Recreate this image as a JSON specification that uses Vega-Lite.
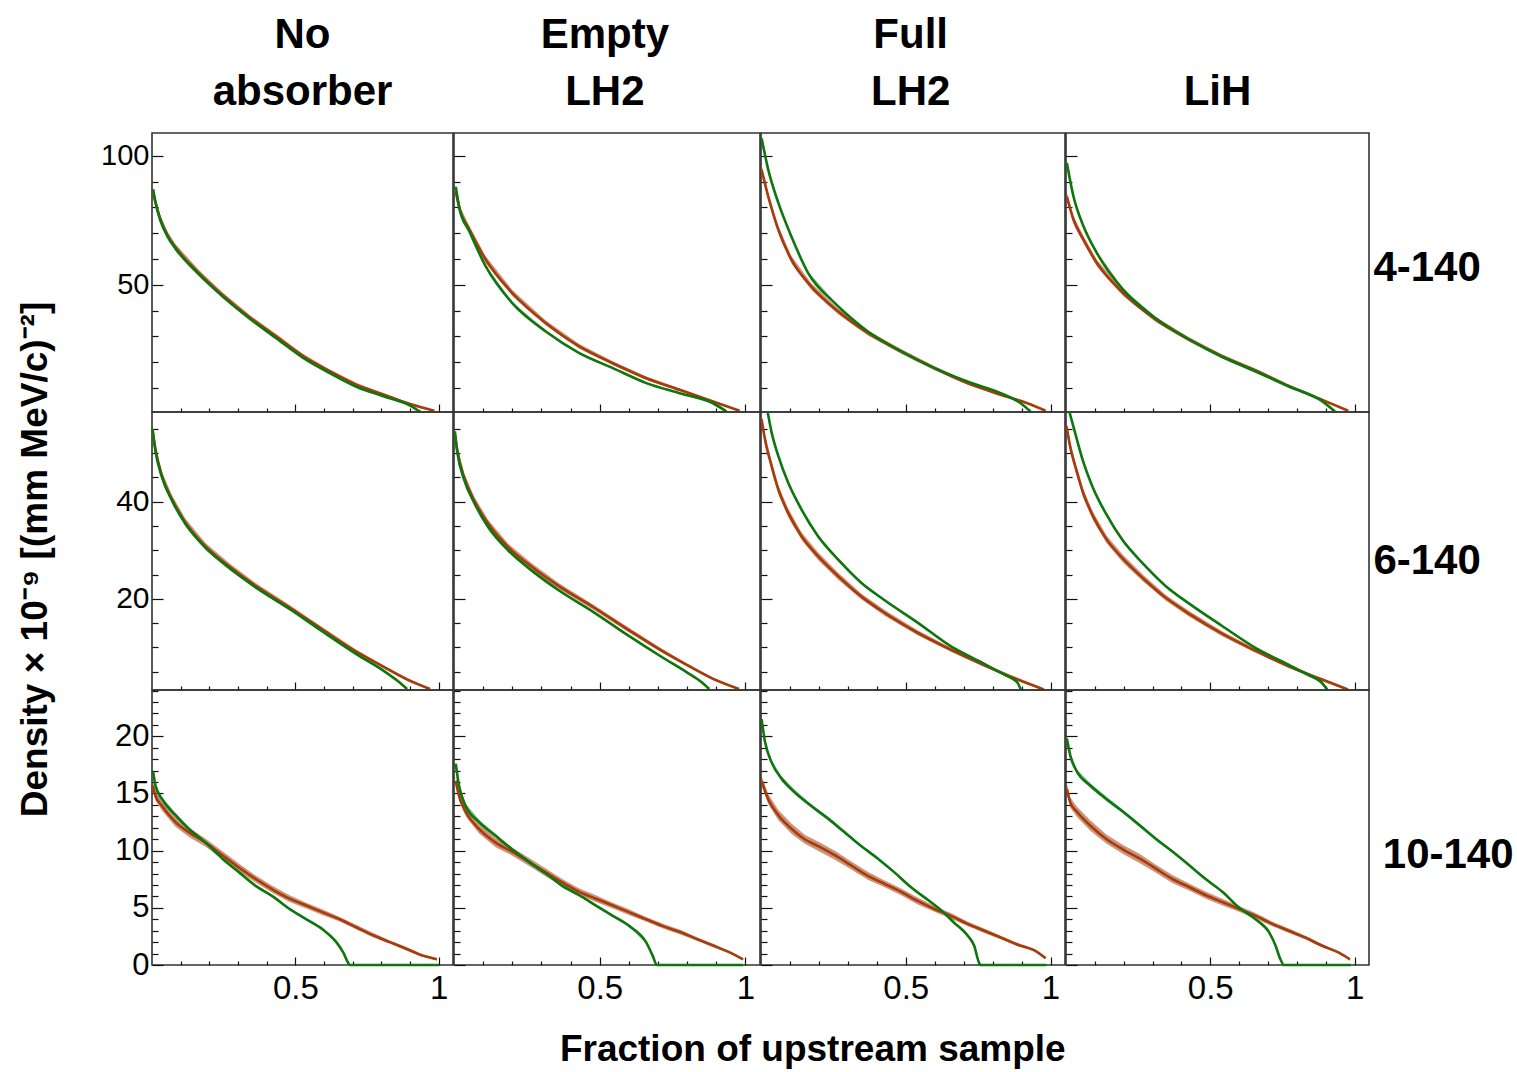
{
  "$schema": "https://vega.github.io/schema/vega-lite/v6.json",
  "background": "white",
  "padding": {"left": 15, "top": 14, "right": 2, "bottom": 5},
  "title": {"text": "Fraction of upstream sample", "orient": "bottom", "anchor": "middle", "fontSize": 37, "offset": 22, "dx": 48},
  "spacing": -7,
  "config": {
    "font": "Liberation Sans",
    "view": {"stroke": "#333333", "strokeWidth": 1.6},
    "axis": {"domain": false, "grid": false, "tickColor": "#111111", "tickWidth": 1.2, "labelFont": "Liberation Sans", "labelColor": "#000000", "labelFlush": false, "labelOverlap": false, "labelBound": false, "minExtent": 0},
    "title": {"font": "Liberation Sans", "fontWeight": "bold", "color": "#000000", "anchor": "middle"},
    "line": {"strokeWidth": 2.6, "interpolate": "monotone", "clip": true},
    "errorband": {"interpolate": "monotone"}
  },
  "datasets": {
    "p11": [
      {"s":"b","x":0.004,"y":85.5,"e":1.6},{"s":"b","x":0.012,"y":82,"e":1.5},{"s":"b","x":0.029,"y":75.5,"e":1.4},{"s":"b","x":0.055,"y":69,"e":1.4},{"s":"b","x":0.082,"y":64.5,"e":1.3},{"s":"b","x":0.164,"y":54.5,"e":1.2},{"s":"b","x":0.246,"y":46,"e":1.1},{"s":"b","x":0.339,"y":37.5,"e":1},{"s":"b","x":0.433,"y":30,"e":0.9},{"s":"b","x":0.526,"y":22.5,"e":0.8},{"s":"b","x":0.62,"y":16.5,"e":0.7},{"s":"b","x":0.713,"y":11.3,"e":0.6},{"s":"b","x":0.807,"y":7.5,"e":0.5},{"s":"b","x":0.9,"y":3.8,"e":0.4},{"s":"b","x":0.985,"y":1.2,"e":0.3},
      {"s":"g","x":0.004,"y":87,"e":0.6},{"s":"g","x":0.012,"y":82,"e":0.6},{"s":"g","x":0.029,"y":75,"e":0.5},{"s":"g","x":0.055,"y":68.5,"e":0.5},{"s":"g","x":0.082,"y":64,"e":0.5},{"s":"g","x":0.164,"y":54,"e":0.4},{"s":"g","x":0.246,"y":45.5,"e":0.4},{"s":"g","x":0.339,"y":37,"e":0.4},{"s":"g","x":0.433,"y":29.3,"e":0.3},{"s":"g","x":0.526,"y":21.8,"e":0.3},{"s":"g","x":0.62,"y":15.8,"e":0.3},{"s":"g","x":0.713,"y":10.5,"e":0.3},{"s":"g","x":0.807,"y":6.8,"e":0.2},{"s":"g","x":0.9,"y":3.2,"e":0.2},{"s":"g","x":0.936,"y":0.8,"e":0.2}
    ],
    "p12": [
      {"s":"b","x":0.006,"y":86,"e":1.6},{"s":"b","x":0.02,"y":79,"e":1.5},{"s":"b","x":0.052,"y":71.6,"e":1.4},{"s":"b","x":0.109,"y":59.7,"e":1.3},{"s":"b","x":0.2,"y":46.8,"e":1.2},{"s":"b","x":0.315,"y":35.2,"e":1},{"s":"b","x":0.43,"y":26.1,"e":0.9},{"s":"b","x":0.545,"y":19.6,"e":0.8},{"s":"b","x":0.66,"y":13.8,"e":0.7},{"s":"b","x":0.774,"y":9.3,"e":0.6},{"s":"b","x":0.889,"y":4.8,"e":0.4},{"s":"b","x":0.98,"y":1.2,"e":0.3},
      {"s":"g","x":0.006,"y":88,"e":0.6},{"s":"g","x":0.02,"y":79,"e":0.5},{"s":"g","x":0.052,"y":70.8,"e":0.5},{"s":"g","x":0.109,"y":57.1,"e":0.4},{"s":"g","x":0.2,"y":42.9,"e":0.4},{"s":"g","x":0.315,"y":31.9,"e":0.4},{"s":"g","x":0.43,"y":23.5,"e":0.3},{"s":"g","x":0.545,"y":17.7,"e":0.3},{"s":"g","x":0.66,"y":11.9,"e":0.3},{"s":"g","x":0.774,"y":8,"e":0.3},{"s":"g","x":0.889,"y":4.1,"e":0.2},{"s":"g","x":0.935,"y":0.9,"e":0.2}
    ],
    "p13": [
      {"s":"b","x":0.002,"y":94.6,"e":1.8},{"s":"b","x":0.025,"y":84.2,"e":1.6},{"s":"b","x":0.06,"y":71.3,"e":1.5},{"s":"b","x":0.105,"y":59.7,"e":1.4},{"s":"b","x":0.174,"y":49.3,"e":1.3},{"s":"b","x":0.266,"y":39.7,"e":1.1},{"s":"b","x":0.369,"y":31.3,"e":1},{"s":"b","x":0.484,"y":24.2,"e":0.9},{"s":"b","x":0.599,"y":17.7,"e":0.8},{"s":"b","x":0.713,"y":11.9,"e":0.6},{"s":"b","x":0.828,"y":7.4,"e":0.5},{"s":"b","x":0.92,"y":4.1,"e":0.4},{"s":"b","x":0.983,"y":1.2,"e":0.3},
      {"s":"g","x":0.002,"y":106.8,"e":0.7},{"s":"g","x":0.025,"y":94.6,"e":0.6},{"s":"g","x":0.06,"y":81.7,"e":0.5},{"s":"g","x":0.105,"y":68.7,"e":0.5},{"s":"g","x":0.163,"y":54.5,"e":0.4},{"s":"g","x":0.255,"y":42.9,"e":0.4},{"s":"g","x":0.369,"y":31.9,"e":0.4},{"s":"g","x":0.484,"y":24.2,"e":0.3},{"s":"g","x":0.599,"y":17.7,"e":0.3},{"s":"g","x":0.713,"y":12.5,"e":0.3},{"s":"g","x":0.828,"y":8,"e":0.3},{"s":"g","x":0.897,"y":4.1,"e":0.2},{"s":"g","x":0.931,"y":0.9,"e":0.2}
    ],
    "p14": [
      {"s":"b","x":0.003,"y":84.2,"e":1.7},{"s":"b","x":0.026,"y":75.2,"e":1.5},{"s":"b","x":0.061,"y":67.4,"e":1.4},{"s":"b","x":0.107,"y":58.4,"e":1.3},{"s":"b","x":0.198,"y":46.8,"e":1.2},{"s":"b","x":0.313,"y":36.4,"e":1},{"s":"b","x":0.428,"y":28.7,"e":0.9},{"s":"b","x":0.542,"y":22.2,"e":0.8},{"s":"b","x":0.657,"y":16.8,"e":0.7},{"s":"b","x":0.772,"y":10.8,"e":0.6},{"s":"b","x":0.886,"y":5.5,"e":0.4},{"s":"b","x":0.978,"y":1.2,"e":0.3},
      {"s":"g","x":0.003,"y":97.2,"e":0.7},{"s":"g","x":0.026,"y":84.2,"e":0.6},{"s":"g","x":0.061,"y":72.6,"e":0.5},{"s":"g","x":0.107,"y":62.3,"e":0.5},{"s":"g","x":0.198,"y":48.1,"e":0.4},{"s":"g","x":0.313,"y":36.8,"e":0.4},{"s":"g","x":0.428,"y":28.7,"e":0.3},{"s":"g","x":0.542,"y":22,"e":0.3},{"s":"g","x":0.657,"y":16.4,"e":0.3},{"s":"g","x":0.772,"y":10.6,"e":0.3},{"s":"g","x":0.886,"y":5,"e":0.2},{"s":"g","x":0.932,"y":0.9,"e":0.2}
    ],
    "p21": [
      {"s":"b","x":0.002,"y":54.6,"e":1},{"s":"b","x":0.012,"y":50.8,"e":0.9},{"s":"b","x":0.035,"y":45.3,"e":0.9},{"s":"b","x":0.07,"y":40.5,"e":0.8},{"s":"b","x":0.117,"y":35.7,"e":0.8},{"s":"b","x":0.187,"y":30.8,"e":0.7},{"s":"b","x":0.269,"y":26.7,"e":0.7},{"s":"b","x":0.363,"y":22.6,"e":0.6},{"s":"b","x":0.48,"y":18.2,"e":0.5},{"s":"b","x":0.596,"y":13.6,"e":0.5},{"s":"b","x":0.713,"y":9.1,"e":0.4},{"s":"b","x":0.807,"y":6,"e":0.3},{"s":"b","x":0.889,"y":3.4,"e":0.3},{"s":"b","x":0.97,"y":1.4,"e":0.2},
      {"s":"g","x":0.002,"y":55,"e":0.4},{"s":"g","x":0.012,"y":50.5,"e":0.4},{"s":"g","x":0.035,"y":45,"e":0.3},{"s":"g","x":0.07,"y":40.2,"e":0.3},{"s":"g","x":0.117,"y":35.4,"e":0.3},{"s":"g","x":0.187,"y":30.5,"e":0.3},{"s":"g","x":0.269,"y":26.4,"e":0.3},{"s":"g","x":0.363,"y":22.3,"e":0.2},{"s":"g","x":0.48,"y":17.9,"e":0.2},{"s":"g","x":0.596,"y":13.2,"e":0.2},{"s":"g","x":0.713,"y":8.6,"e":0.2},{"s":"g","x":0.807,"y":5.2,"e":0.2},{"s":"g","x":0.854,"y":3.2,"e":0.2},{"s":"g","x":0.89,"y":1.4,"e":0.2}
    ],
    "p22": [
      {"s":"b","x":0.003,"y":53.8,"e":1},{"s":"b","x":0.012,"y":50.3,"e":0.9},{"s":"b","x":0.035,"y":45,"e":0.9},{"s":"b","x":0.07,"y":40.2,"e":0.8},{"s":"b","x":0.117,"y":35.5,"e":0.8},{"s":"b","x":0.187,"y":30.6,"e":0.7},{"s":"b","x":0.269,"y":26.5,"e":0.7},{"s":"b","x":0.363,"y":22.5,"e":0.6},{"s":"b","x":0.48,"y":18.2,"e":0.5},{"s":"b","x":0.596,"y":13.7,"e":0.5},{"s":"b","x":0.713,"y":9.3,"e":0.4},{"s":"b","x":0.807,"y":6.1,"e":0.3},{"s":"b","x":0.889,"y":3.5,"e":0.3},{"s":"b","x":0.978,"y":1.4,"e":0.2},
      {"s":"g","x":0.003,"y":54.5,"e":0.4},{"s":"g","x":0.012,"y":50,"e":0.4},{"s":"g","x":0.035,"y":44.5,"e":0.3},{"s":"g","x":0.07,"y":39.7,"e":0.3},{"s":"g","x":0.117,"y":34.8,"e":0.3},{"s":"g","x":0.187,"y":29.9,"e":0.3},{"s":"g","x":0.269,"y":25.7,"e":0.3},{"s":"g","x":0.363,"y":21.6,"e":0.2},{"s":"g","x":0.48,"y":17.2,"e":0.2},{"s":"g","x":0.596,"y":12.5,"e":0.2},{"s":"g","x":0.713,"y":8,"e":0.2},{"s":"g","x":0.8,"y":4.8,"e":0.2},{"s":"g","x":0.85,"y":2.8,"e":0.2},{"s":"g","x":0.876,"y":1.4,"e":0.2}
    ],
    "p23": [
      {"s":"b","x":0.002,"y":57,"e":1.1},{"s":"b","x":0.014,"y":52.8,"e":1},{"s":"b","x":0.037,"y":47.3,"e":1},{"s":"b","x":0.06,"y":42.5,"e":0.9},{"s":"b","x":0.094,"y":37.7,"e":0.9},{"s":"b","x":0.14,"y":32.9,"e":0.8},{"s":"b","x":0.197,"y":28.8,"e":0.8},{"s":"b","x":0.266,"y":24.7,"e":0.7},{"s":"b","x":0.346,"y":20.5,"e":0.6},{"s":"b","x":0.427,"y":17.1,"e":0.6},{"s":"b","x":0.541,"y":13,"e":0.5},{"s":"b","x":0.656,"y":9.5,"e":0.4},{"s":"b","x":0.771,"y":6.3,"e":0.3},{"s":"b","x":0.885,"y":3.4,"e":0.3},{"s":"b","x":0.977,"y":1.3,"e":0.2},
      {"s":"g","x":0.023,"y":58.5,"e":0.4},{"s":"g","x":0.037,"y":54.2,"e":0.4},{"s":"g","x":0.06,"y":49.4,"e":0.3},{"s":"g","x":0.094,"y":43.9,"e":0.3},{"s":"g","x":0.14,"y":38.4,"e":0.3},{"s":"g","x":0.197,"y":32.9,"e":0.3},{"s":"g","x":0.266,"y":28.1,"e":0.3},{"s":"g","x":0.346,"y":23.3,"e":0.2},{"s":"g","x":0.427,"y":19.7,"e":0.2},{"s":"g","x":0.541,"y":15.1,"e":0.2},{"s":"g","x":0.656,"y":10.2,"e":0.2},{"s":"g","x":0.771,"y":6.6,"e":0.2},{"s":"g","x":0.839,"y":4.4,"e":0.2},{"s":"g","x":0.885,"y":2.8,"e":0.2},{"s":"g","x":0.897,"y":1.3,"e":0.2}
    ],
    "p24": [
      {"s":"b","x":0.002,"y":55.5,"e":1.1},{"s":"b","x":0.014,"y":51.5,"e":1},{"s":"b","x":0.037,"y":46.3,"e":1},{"s":"b","x":0.06,"y":41.7,"e":0.9},{"s":"b","x":0.094,"y":37,"e":0.9},{"s":"b","x":0.14,"y":32.3,"e":0.8},{"s":"b","x":0.197,"y":28.3,"e":0.8},{"s":"b","x":0.266,"y":24.3,"e":0.7},{"s":"b","x":0.346,"y":20.2,"e":0.6},{"s":"b","x":0.427,"y":16.9,"e":0.6},{"s":"b","x":0.541,"y":12.8,"e":0.5},{"s":"b","x":0.656,"y":9.3,"e":0.4},{"s":"b","x":0.771,"y":6.1,"e":0.3},{"s":"b","x":0.885,"y":3.4,"e":0.3},{"s":"b","x":0.977,"y":1.3,"e":0.2},
      {"s":"g","x":0.012,"y":58.5,"e":0.4},{"s":"g","x":0.037,"y":53,"e":0.4},{"s":"g","x":0.06,"y":48.2,"e":0.3},{"s":"g","x":0.094,"y":42.8,"e":0.3},{"s":"g","x":0.14,"y":37.4,"e":0.3},{"s":"g","x":0.197,"y":32,"e":0.3},{"s":"g","x":0.266,"y":27.3,"e":0.3},{"s":"g","x":0.346,"y":22.6,"e":0.2},{"s":"g","x":0.427,"y":19,"e":0.2},{"s":"g","x":0.541,"y":14.4,"e":0.2},{"s":"g","x":0.656,"y":9.9,"e":0.2},{"s":"g","x":0.771,"y":6.4,"e":0.2},{"s":"g","x":0.839,"y":4.3,"e":0.2},{"s":"g","x":0.885,"y":2.8,"e":0.2},{"s":"g","x":0.905,"y":1.3,"e":0.2}
    ],
    "p31": [
      {"s":"b","x":0.003,"y":15.7,"e":0.4},{"s":"b","x":0.012,"y":14.8,"e":0.4},{"s":"b","x":0.035,"y":13.9,"e":0.4},{"s":"b","x":0.082,"y":12.5,"e":0.4},{"s":"b","x":0.129,"y":11.6,"e":0.4},{"s":"b","x":0.187,"y":10.7,"e":0.35},{"s":"b","x":0.246,"y":9.6,"e":0.35},{"s":"b","x":0.304,"y":8.5,"e":0.35},{"s":"b","x":0.363,"y":7.5,"e":0.3},{"s":"b","x":0.421,"y":6.6,"e":0.3},{"s":"b","x":0.48,"y":5.8,"e":0.3},{"s":"b","x":0.538,"y":5.2,"e":0.25},{"s":"b","x":0.596,"y":4.6,"e":0.25},{"s":"b","x":0.655,"y":4,"e":0.2},{"s":"b","x":0.713,"y":3.3,"e":0.2},{"s":"b","x":0.772,"y":2.6,"e":0.2},{"s":"b","x":0.83,"y":2,"e":0.15},{"s":"b","x":0.889,"y":1.4,"e":0.15},{"s":"b","x":0.947,"y":0.8,"e":0.1},{"s":"b","x":0.994,"y":0.5,"e":0.1},
      {"s":"g","x":0.004,"y":16.9,"e":0.2},{"s":"g","x":0.012,"y":15.7,"e":0.2},{"s":"g","x":0.035,"y":14.5,"e":0.2},{"s":"g","x":0.082,"y":13.1,"e":0.2},{"s":"g","x":0.129,"y":11.9,"e":0.15},{"s":"g","x":0.187,"y":10.7,"e":0.15},{"s":"g","x":0.246,"y":9.3,"e":0.15},{"s":"g","x":0.304,"y":8.1,"e":0.1},{"s":"g","x":0.363,"y":6.9,"e":0.1},{"s":"g","x":0.421,"y":6,"e":0.1},{"s":"g","x":0.48,"y":4.9,"e":0.1},{"s":"g","x":0.538,"y":4,"e":0.1},{"s":"g","x":0.596,"y":3.1,"e":0.1},{"s":"g","x":0.643,"y":2,"e":0.1},{"s":"g","x":0.667,"y":1.1,"e":0.1},{"s":"g","x":0.684,"y":0.2,"e":0},{"s":"g","x":0.69,"y":0,"e":0},{"s":"g","x":1,"y":0,"e":0}
    ],
    "p32": [
      {"s":"b","x":0.006,"y":16.1,"e":0.4},{"s":"b","x":0.017,"y":14.8,"e":0.4},{"s":"b","x":0.04,"y":13.4,"e":0.4},{"s":"b","x":0.086,"y":11.9,"e":0.4},{"s":"b","x":0.143,"y":10.7,"e":0.4},{"s":"b","x":0.2,"y":9.9,"e":0.35},{"s":"b","x":0.258,"y":9,"e":0.35},{"s":"b","x":0.315,"y":8.1,"e":0.35},{"s":"b","x":0.373,"y":7.2,"e":0.3},{"s":"b","x":0.43,"y":6.4,"e":0.3},{"s":"b","x":0.487,"y":5.8,"e":0.3},{"s":"b","x":0.545,"y":5.2,"e":0.25},{"s":"b","x":0.602,"y":4.6,"e":0.25},{"s":"b","x":0.659,"y":4,"e":0.2},{"s":"b","x":0.717,"y":3.4,"e":0.2},{"s":"b","x":0.774,"y":2.9,"e":0.2},{"s":"b","x":0.831,"y":2.3,"e":0.15},{"s":"b","x":0.889,"y":1.7,"e":0.15},{"s":"b","x":0.946,"y":1.1,"e":0.1},{"s":"b","x":0.992,"y":0.5,"e":0.1},
      {"s":"g","x":0.006,"y":17.6,"e":0.2},{"s":"g","x":0.017,"y":15.7,"e":0.2},{"s":"g","x":0.04,"y":13.9,"e":0.2},{"s":"g","x":0.086,"y":12.5,"e":0.2},{"s":"g","x":0.143,"y":11.3,"e":0.15},{"s":"g","x":0.2,"y":10.1,"e":0.15},{"s":"g","x":0.258,"y":9,"e":0.15},{"s":"g","x":0.315,"y":8,"e":0.1},{"s":"g","x":0.373,"y":6.9,"e":0.1},{"s":"g","x":0.43,"y":6.1,"e":0.1},{"s":"g","x":0.487,"y":5.2,"e":0.1},{"s":"g","x":0.545,"y":4.3,"e":0.1},{"s":"g","x":0.602,"y":3.4,"e":0.1},{"s":"g","x":0.659,"y":2,"e":0.1},{"s":"g","x":0.682,"y":0.8,"e":0.1},{"s":"g","x":0.696,"y":0,"e":0},{"s":"g","x":0.992,"y":0,"e":0}
    ],
    "p33": [
      {"s":"b","x":0.002,"y":16.1,"e":0.45},{"s":"b","x":0.025,"y":14.5,"e":0.45},{"s":"b","x":0.06,"y":13.1,"e":0.45},{"s":"b","x":0.106,"y":11.9,"e":0.45},{"s":"b","x":0.151,"y":11,"e":0.4},{"s":"b","x":0.197,"y":10.4,"e":0.4},{"s":"b","x":0.255,"y":9.6,"e":0.4},{"s":"b","x":0.312,"y":8.7,"e":0.35},{"s":"b","x":0.369,"y":7.8,"e":0.35},{"s":"b","x":0.427,"y":7.1,"e":0.3},{"s":"b","x":0.484,"y":6.4,"e":0.3},{"s":"b","x":0.541,"y":5.6,"e":0.3},{"s":"b","x":0.599,"y":4.9,"e":0.25},{"s":"b","x":0.656,"y":4.3,"e":0.25},{"s":"b","x":0.713,"y":3.6,"e":0.2},{"s":"b","x":0.771,"y":3,"e":0.2},{"s":"b","x":0.828,"y":2.4,"e":0.15},{"s":"b","x":0.885,"y":1.8,"e":0.15},{"s":"b","x":0.943,"y":1.3,"e":0.1},{"s":"b","x":0.983,"y":0.6,"e":0.1},
      {"s":"g","x":0.002,"y":21.5,"e":0.25},{"s":"g","x":0.014,"y":19.5,"e":0.25},{"s":"g","x":0.037,"y":17.7,"e":0.2},{"s":"g","x":0.071,"y":16.3,"e":0.2},{"s":"g","x":0.117,"y":15.1,"e":0.2},{"s":"g","x":0.174,"y":13.9,"e":0.15},{"s":"g","x":0.232,"y":12.8,"e":0.15},{"s":"g","x":0.289,"y":11.6,"e":0.15},{"s":"g","x":0.346,"y":10.4,"e":0.1},{"s":"g","x":0.404,"y":9.3,"e":0.1},{"s":"g","x":0.461,"y":8.1,"e":0.1},{"s":"g","x":0.518,"y":6.8,"e":0.1},{"s":"g","x":0.576,"y":5.7,"e":0.1},{"s":"g","x":0.622,"y":4.8,"e":0.1},{"s":"g","x":0.667,"y":3.7,"e":0.1},{"s":"g","x":0.713,"y":2.6,"e":0.1},{"s":"g","x":0.736,"y":1.7,"e":0.1},{"s":"g","x":0.753,"y":0.2,"e":0},{"s":"g","x":0.757,"y":0,"e":0},{"s":"g","x":0.986,"y":0,"e":0}
    ],
    "p34": [
      {"s":"b","x":0.003,"y":15.4,"e":0.45},{"s":"b","x":0.015,"y":14.2,"e":0.45},{"s":"b","x":0.038,"y":13.4,"e":0.45},{"s":"b","x":0.084,"y":12.2,"e":0.45},{"s":"b","x":0.141,"y":11,"e":0.4},{"s":"b","x":0.198,"y":10.1,"e":0.4},{"s":"b","x":0.256,"y":9.3,"e":0.4},{"s":"b","x":0.313,"y":8.4,"e":0.35},{"s":"b","x":0.37,"y":7.5,"e":0.35},{"s":"b","x":0.428,"y":6.8,"e":0.3},{"s":"b","x":0.485,"y":6.1,"e":0.3},{"s":"b","x":0.542,"y":5.5,"e":0.3},{"s":"b","x":0.6,"y":4.9,"e":0.25},{"s":"b","x":0.657,"y":4.3,"e":0.25},{"s":"b","x":0.714,"y":3.6,"e":0.2},{"s":"b","x":0.772,"y":3,"e":0.2},{"s":"b","x":0.829,"y":2.4,"e":0.15},{"s":"b","x":0.886,"y":1.7,"e":0.15},{"s":"b","x":0.944,"y":1.1,"e":0.1},{"s":"b","x":0.984,"y":0.5,"e":0.1},
      {"s":"g","x":0.003,"y":19.8,"e":0.25},{"s":"g","x":0.015,"y":18.3,"e":0.25},{"s":"g","x":0.038,"y":16.9,"e":0.2},{"s":"g","x":0.084,"y":15.7,"e":0.2},{"s":"g","x":0.141,"y":14.5,"e":0.2},{"s":"g","x":0.198,"y":13.4,"e":0.15},{"s":"g","x":0.256,"y":12.2,"e":0.15},{"s":"g","x":0.313,"y":11,"e":0.15},{"s":"g","x":0.37,"y":9.9,"e":0.1},{"s":"g","x":0.428,"y":8.7,"e":0.1},{"s":"g","x":0.485,"y":7.5,"e":0.1},{"s":"g","x":0.542,"y":6.4,"e":0.1},{"s":"g","x":0.6,"y":5,"e":0.1},{"s":"g","x":0.657,"y":4,"e":0.1},{"s":"g","x":0.703,"y":2.9,"e":0.1},{"s":"g","x":0.726,"y":1.7,"e":0.1},{"s":"g","x":0.743,"y":0.5,"e":0},{"s":"g","x":0.755,"y":0,"e":0},{"s":"g","x":0.987,"y":0,"e":0}
    ]
  },
  "hconcat": [
    {
      "title": {"text": ["No", "absorber"], "fontSize": 42, "lineHeight": 57, "baseline": "bottom", "offset": -24, "dx": 68},
      "spacing": 0, "bounds": "flush",
      "vconcat": [
        {"width": 301, "height": 279, "data": {"name": "p11"},
         "encoding": {
           "x": {"field": "x", "type": "quantitative", "scale": {"domain": [0, 1.05], "nice": false, "zero": false}, "axis": {"title": null, "labels": false, "values": [0.1,0.2,0.3,0.4,0.5,0.6,0.7,0.8,0.9,1], "tickSize": {"condition": {"test": "datum.value == 0.5 || datum.value == 1", "value": -8}, "value": -4}}},
           "y": {"field": "y", "type": "quantitative", "scale": {"domain": [0.7, 108.8], "nice": false, "zero": false}, "axis": {"title": null, "labelFontSize": 29, "labelPadding": 14, "values": [10,20,30,40,50,60,70,80,90,100], "labelExpr": "datum.value % 50 == 0 ? datum.label : ''", "tickSize": {"condition": {"test": "datum.value % 50 == 0", "value": -11}, "value": -6}}},
           "color": {"field": "s", "type": "nominal", "scale": {"domain": ["b","g"], "range": ["#a63c0c","#0d760d"]}, "legend": null}},
         "layer": [{"mark": {"type": "errorband", "opacity": 0.55}, "encoding": {"yError": {"field": "e"}}}, {"mark": "line"}]},
        {"width": 301, "height": 278, "data": {"name": "p21"},
         "encoding": {
           "x": {"field": "x", "type": "quantitative", "scale": {"domain": [0, 1.05], "nice": false, "zero": false}, "axis": {"title": null, "labels": false, "values": [0.1,0.2,0.3,0.4,0.5,0.6,0.7,0.8,0.9,1], "tickSize": {"condition": {"test": "datum.value == 0.5 || datum.value == 1", "value": -8}, "value": -4}}},
           "y": {"field": "y", "type": "quantitative", "scale": {"domain": [1.2, 58.5], "nice": false, "zero": false}, "axis": {"title": "Density × 10⁻⁹ [(mm MeV/c)⁻²]", "titleFontSize": 37, "titleFont": "Liberation Sans", "titleFontWeight": "bold", "titleColor": "#000000", "titleX": -106, "titleY": 147, "titleBaseline": "alphabetic", "titleAngle": -90, "labelFontSize": 30, "labelPadding": 14, "values": [5,10,15,20,25,30,35,40,45,50,55], "labelExpr": "datum.value % 20 == 0 ? datum.label : ''", "tickSize": {"condition": {"test": "datum.value % 20 == 0", "value": -11}, "value": -6}}},
           "color": {"field": "s", "type": "nominal", "scale": {"domain": ["b","g"], "range": ["#a63c0c","#0d760d"]}, "legend": null}},
         "layer": [{"mark": {"type": "errorband", "opacity": 0.55}, "encoding": {"yError": {"field": "e"}}}, {"mark": "line"}]},
        {"width": 301, "height": 275, "data": {"name": "p31"},
         "encoding": {
           "x": {"field": "x", "type": "quantitative", "scale": {"domain": [0, 1.05], "nice": false, "zero": false}, "axis": {"title": null, "labelFontSize": 33, "labelPadding": 15, "values": [0.1,0.2,0.3,0.4,0.5,0.6,0.7,0.8,0.9,1], "labelExpr": "datum.value == 0.5 ? '0.5' : datum.value == 1 ? '1' : ''", "tickSize": {"condition": {"test": "datum.value == 0.5 || datum.value == 1", "value": -8}, "value": -4}}},
           "y": {"field": "y", "type": "quantitative", "scale": {"domain": [0, 24.05], "nice": false, "zero": false}, "axis": {"title": null, "labelFontSize": 31, "labelPadding": 14, "values": [0,1,2,3,4,5,6,7,8,9,10,11,12,13,14,15,16,17,18,19,20,21,22,23,24], "labelExpr": "datum.value % 5 == 0 ? datum.label : ''", "tickSize": {"condition": {"test": "datum.value % 5 == 0", "value": -11}, "value": -6}}},
           "color": {"field": "s", "type": "nominal", "scale": {"domain": ["b","g"], "range": ["#a63c0c","#0d760d"]}, "legend": null}},
         "layer": [{"mark": {"type": "errorband", "opacity": 0.55}, "encoding": {"yError": {"field": "e"}}}, {"mark": "line"}]}
      ]
    },
    {
      "title": {"text": ["Empty", "LH2"], "fontSize": 42, "lineHeight": 57, "baseline": "bottom", "offset": -24},
      "spacing": 0, "bounds": "flush",
      "vconcat": [
        {"width": 306, "height": 279, "data": {"name": "p12"},
         "encoding": {
           "x": {"field": "x", "type": "quantitative", "scale": {"domain": [0, 1.05], "nice": false, "zero": false}, "axis": {"title": null, "labels": false, "values": [0.1,0.2,0.3,0.4,0.5,0.6,0.7,0.8,0.9,1], "tickSize": {"condition": {"test": "datum.value == 0.5 || datum.value == 1", "value": -8}, "value": -4}}},
           "y": {"field": "y", "type": "quantitative", "scale": {"domain": [0.7, 108.8], "nice": false, "zero": false}, "axis": {"title": null, "labels": false, "values": [10,20,30,40,50,60,70,80,90,100], "tickSize": {"condition": {"test": "datum.value % 50 == 0", "value": -11}, "value": -6}}},
           "color": {"field": "s", "type": "nominal", "scale": {"domain": ["b","g"], "range": ["#a63c0c","#0d760d"]}, "legend": null}},
         "layer": [{"mark": {"type": "errorband", "opacity": 0.55}, "encoding": {"yError": {"field": "e"}}}, {"mark": "line"}]},
        {"width": 306, "height": 278, "data": {"name": "p22"},
         "encoding": {
           "x": {"field": "x", "type": "quantitative", "scale": {"domain": [0, 1.05], "nice": false, "zero": false}, "axis": {"title": null, "labels": false, "values": [0.1,0.2,0.3,0.4,0.5,0.6,0.7,0.8,0.9,1], "tickSize": {"condition": {"test": "datum.value == 0.5 || datum.value == 1", "value": -8}, "value": -4}}},
           "y": {"field": "y", "type": "quantitative", "scale": {"domain": [1.2, 58.5], "nice": false, "zero": false}, "axis": {"title": null, "labels": false, "values": [5,10,15,20,25,30,35,40,45,50,55], "tickSize": {"condition": {"test": "datum.value % 20 == 0", "value": -11}, "value": -6}}},
           "color": {"field": "s", "type": "nominal", "scale": {"domain": ["b","g"], "range": ["#a63c0c","#0d760d"]}, "legend": null}},
         "layer": [{"mark": {"type": "errorband", "opacity": 0.55}, "encoding": {"yError": {"field": "e"}}}, {"mark": "line"}]},
        {"width": 306, "height": 275, "data": {"name": "p32"},
         "encoding": {
           "x": {"field": "x", "type": "quantitative", "scale": {"domain": [0, 1.05], "nice": false, "zero": false}, "axis": {"title": null, "labelFontSize": 33, "labelPadding": 15, "values": [0.1,0.2,0.3,0.4,0.5,0.6,0.7,0.8,0.9,1], "labelExpr": "datum.value == 0.5 ? '0.5' : datum.value == 1 ? '1' : ''", "tickSize": {"condition": {"test": "datum.value == 0.5 || datum.value == 1", "value": -8}, "value": -4}}},
           "y": {"field": "y", "type": "quantitative", "scale": {"domain": [0, 24.05], "nice": false, "zero": false}, "axis": {"title": null, "labels": false, "values": [0,1,2,3,4,5,6,7,8,9,10,11,12,13,14,15,16,17,18,19,20,21,22,23,24], "tickSize": {"condition": {"test": "datum.value % 5 == 0", "value": -11}, "value": -6}}},
           "color": {"field": "s", "type": "nominal", "scale": {"domain": ["b","g"], "range": ["#a63c0c","#0d760d"]}, "legend": null}},
         "layer": [{"mark": {"type": "errorband", "opacity": 0.55}, "encoding": {"yError": {"field": "e"}}}, {"mark": "line"}]}
      ]
    },
    {
      "title": {"text": ["Full", "LH2"], "fontSize": 42, "lineHeight": 57, "baseline": "bottom", "offset": -24},
      "spacing": 0, "bounds": "flush",
      "vconcat": [
        {"width": 304, "height": 279, "data": {"name": "p13"},
         "encoding": {
           "x": {"field": "x", "type": "quantitative", "scale": {"domain": [0, 1.05], "nice": false, "zero": false}, "axis": {"title": null, "labels": false, "values": [0.1,0.2,0.3,0.4,0.5,0.6,0.7,0.8,0.9,1], "tickSize": {"condition": {"test": "datum.value == 0.5 || datum.value == 1", "value": -8}, "value": -4}}},
           "y": {"field": "y", "type": "quantitative", "scale": {"domain": [0.7, 108.8], "nice": false, "zero": false}, "axis": {"title": null, "labels": false, "values": [10,20,30,40,50,60,70,80,90,100], "tickSize": {"condition": {"test": "datum.value % 50 == 0", "value": -11}, "value": -6}}},
           "color": {"field": "s", "type": "nominal", "scale": {"domain": ["b","g"], "range": ["#a63c0c","#0d760d"]}, "legend": null}},
         "layer": [{"mark": {"type": "errorband", "opacity": 0.55}, "encoding": {"yError": {"field": "e"}}}, {"mark": "line"}]},
        {"width": 304, "height": 278, "data": {"name": "p23"},
         "encoding": {
           "x": {"field": "x", "type": "quantitative", "scale": {"domain": [0, 1.05], "nice": false, "zero": false}, "axis": {"title": null, "labels": false, "values": [0.1,0.2,0.3,0.4,0.5,0.6,0.7,0.8,0.9,1], "tickSize": {"condition": {"test": "datum.value == 0.5 || datum.value == 1", "value": -8}, "value": -4}}},
           "y": {"field": "y", "type": "quantitative", "scale": {"domain": [1.2, 58.5], "nice": false, "zero": false}, "axis": {"title": null, "labels": false, "values": [5,10,15,20,25,30,35,40,45,50,55], "tickSize": {"condition": {"test": "datum.value % 20 == 0", "value": -11}, "value": -6}}},
           "color": {"field": "s", "type": "nominal", "scale": {"domain": ["b","g"], "range": ["#a63c0c","#0d760d"]}, "legend": null}},
         "layer": [{"mark": {"type": "errorband", "opacity": 0.55}, "encoding": {"yError": {"field": "e"}}}, {"mark": "line"}]},
        {"width": 304, "height": 275, "data": {"name": "p33"},
         "encoding": {
           "x": {"field": "x", "type": "quantitative", "scale": {"domain": [0, 1.05], "nice": false, "zero": false}, "axis": {"title": null, "labelFontSize": 33, "labelPadding": 15, "values": [0.1,0.2,0.3,0.4,0.5,0.6,0.7,0.8,0.9,1], "labelExpr": "datum.value == 0.5 ? '0.5' : datum.value == 1 ? '1' : ''", "tickSize": {"condition": {"test": "datum.value == 0.5 || datum.value == 1", "value": -8}, "value": -4}}},
           "y": {"field": "y", "type": "quantitative", "scale": {"domain": [0, 24.05], "nice": false, "zero": false}, "axis": {"title": null, "labels": false, "values": [0,1,2,3,4,5,6,7,8,9,10,11,12,13,14,15,16,17,18,19,20,21,22,23,24], "tickSize": {"condition": {"test": "datum.value % 5 == 0", "value": -11}, "value": -6}}},
           "color": {"field": "s", "type": "nominal", "scale": {"domain": ["b","g"], "range": ["#a63c0c","#0d760d"]}, "legend": null}},
         "layer": [{"mark": {"type": "errorband", "opacity": 0.55}, "encoding": {"yError": {"field": "e"}}}, {"mark": "line"}]}
      ]
    },
    {
      "title": {"text": ["", "LiH"], "fontSize": 42, "lineHeight": 57, "baseline": "bottom", "offset": -24, "dx": -70},
      "spacing": 0, "bounds": "flush",
      "vconcat": [
        {"width": 303, "height": 279, "data": {"name": "p14"},
         "title": {"text": "4-140", "orient": "right", "angle": 0, "align": "left", "baseline": "middle", "offset": -103, "dy": -5, "fontSize": 42, "frame": "group"},
         "encoding": {
           "x": {"field": "x", "type": "quantitative", "scale": {"domain": [0, 1.05], "nice": false, "zero": false}, "axis": {"title": null, "labels": false, "values": [0.1,0.2,0.3,0.4,0.5,0.6,0.7,0.8,0.9,1], "tickSize": {"condition": {"test": "datum.value == 0.5 || datum.value == 1", "value": -8}, "value": -4}}},
           "y": {"field": "y", "type": "quantitative", "scale": {"domain": [0.7, 108.8], "nice": false, "zero": false}, "axis": {"title": null, "labels": false, "values": [10,20,30,40,50,60,70,80,90,100], "tickSize": {"condition": {"test": "datum.value % 50 == 0", "value": -11}, "value": -6}}},
           "color": {"field": "s", "type": "nominal", "scale": {"domain": ["b","g"], "range": ["#a63c0c","#0d760d"]}, "legend": null}},
         "layer": [{"mark": {"type": "errorband", "opacity": 0.55}, "encoding": {"yError": {"field": "e"}}}, {"mark": "line"}]},
        {"width": 303, "height": 278, "data": {"name": "p24"},
         "title": {"text": "6-140", "orient": "right", "angle": 0, "align": "left", "baseline": "middle", "offset": -103, "dy": 10, "fontSize": 42, "frame": "group"},
         "encoding": {
           "x": {"field": "x", "type": "quantitative", "scale": {"domain": [0, 1.05], "nice": false, "zero": false}, "axis": {"title": null, "labels": false, "values": [0.1,0.2,0.3,0.4,0.5,0.6,0.7,0.8,0.9,1], "tickSize": {"condition": {"test": "datum.value == 0.5 || datum.value == 1", "value": -8}, "value": -4}}},
           "y": {"field": "y", "type": "quantitative", "scale": {"domain": [1.2, 58.5], "nice": false, "zero": false}, "axis": {"title": null, "labels": false, "values": [5,10,15,20,25,30,35,40,45,50,55], "tickSize": {"condition": {"test": "datum.value % 20 == 0", "value": -11}, "value": -6}}},
           "color": {"field": "s", "type": "nominal", "scale": {"domain": ["b","g"], "range": ["#a63c0c","#0d760d"]}, "legend": null}},
         "layer": [{"mark": {"type": "errorband", "opacity": 0.55}, "encoding": {"yError": {"field": "e"}}}, {"mark": "line"}]},
        {"width": 303, "height": 275, "data": {"name": "p34"},
         "title": {"text": "10-140", "orient": "right", "angle": 0, "align": "left", "baseline": "middle", "offset": -117, "dy": 27, "fontSize": 42, "frame": "group"},
         "encoding": {
           "x": {"field": "x", "type": "quantitative", "scale": {"domain": [0, 1.05], "nice": false, "zero": false}, "axis": {"title": null, "labelFontSize": 33, "labelPadding": 15, "values": [0.1,0.2,0.3,0.4,0.5,0.6,0.7,0.8,0.9,1], "labelExpr": "datum.value == 0.5 ? '0.5' : datum.value == 1 ? '1' : ''", "tickSize": {"condition": {"test": "datum.value == 0.5 || datum.value == 1", "value": -8}, "value": -4}}},
           "y": {"field": "y", "type": "quantitative", "scale": {"domain": [0, 24.05], "nice": false, "zero": false}, "axis": {"title": null, "labels": false, "values": [0,1,2,3,4,5,6,7,8,9,10,11,12,13,14,15,16,17,18,19,20,21,22,23,24], "tickSize": {"condition": {"test": "datum.value % 5 == 0", "value": -11}, "value": -6}}},
           "color": {"field": "s", "type": "nominal", "scale": {"domain": ["b","g"], "range": ["#a63c0c","#0d760d"]}, "legend": null}},
         "layer": [{"mark": {"type": "errorband", "opacity": 0.55}, "encoding": {"yError": {"field": "e"}}}, {"mark": "line"}]}
      ]
    }
  ]
}
